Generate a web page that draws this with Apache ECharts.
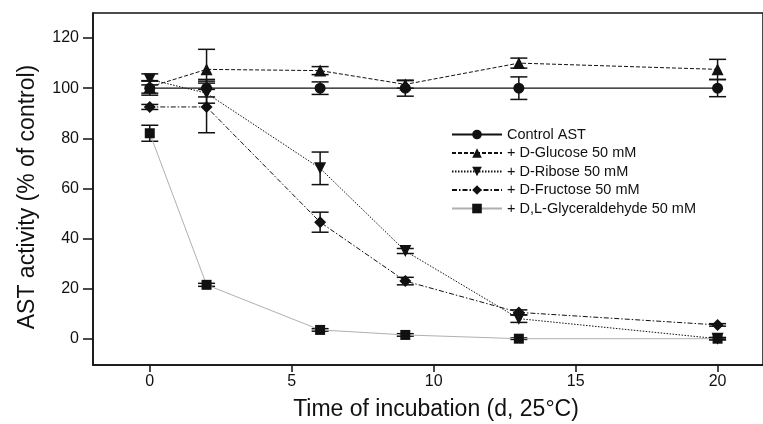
<!DOCTYPE html>
<html>
<head>
<meta charset="utf-8">
<script src="https://cdn.jsdelivr.net/npm/echarts@6/dist/echarts.min.js"></script>
<style>
  html, body { margin: 0; padding: 0; background: #fff; }
  #chart { width: 763px; height: 424px; }
</style>
</head>
<body>
<div id="chart"></div>
<script>
// days of incubation
const days = [0, 2, 6, 9, 13, 20]
const names = ['Control AST', '+ D-Glucose 50 mM', '+ D-Ribose 50 mM', '+ D-Fructose 50 mM', '+ D,L-Glyceraldehyde 50 mM']
// activity, % of control, and +/- error
const control = [100, 100, 100, 100, 100, 100]
const controlErr = [2.8, 3.5, 2.5, 3.2, 4.5, 3.4]
const glucose = [100.5, 107.5, 107, 101.5, 110, 107.5]
const glucoseErr = [2.5, 8, 1.6, 1.5, 2, 4]
const ribose = [103.5, 98, 68, 35, 8, 0]
const riboseErr = [2.2, 4, 6.5, 1, 1.5, 0.5]
const fructose = [92.5, 92.5, 46.5, 23, 10.5, 5.5]
const fructoseErr = [1, 10.3, 4, 1.5, 1, 0.5]
const glycer = [82, 21.5, 3.5, 1.5, 0, 0]
const glycerErr = [3.2, 0.6, 0.5, 0.5, 0.3, 0.3]
const yTicks = [0, 20, 40, 60, 80, 100, 120]
const xTicks = [0, 5, 10, 15, 20]

const font = '"Liberation Sans", Arial, sans-serif'

function pairs(vals) {
  return days.map((d, i) => [d, vals[i]])
}
function errData(vals, errs) {
  return days.map((d, i) => [d, vals[i] - errs[i], vals[i] + errs[i]])
}

// 误差棒
function errSeries(vals, errs) {
  return {
    type: 'custom',
    silent: true,
    z: 1,
    data: errData(vals, errs),
    renderItem: function (params, api) {
      const lo = api.coord([api.value(0), api.value(1)])
      const hi = api.coord([api.value(0), api.value(2)])
      const w = 8.5
      const st = { stroke: '#111', lineWidth: 1.5 }
      return {
        type: 'group',
        children: [
          { type: 'line', shape: { x1: lo[0], y1: lo[1], x2: hi[0], y2: hi[1] }, style: st },
          { type: 'line', shape: { x1: lo[0] - w, y1: lo[1], x2: lo[0] + w, y2: lo[1] }, style: st },
          { type: 'line', shape: { x1: hi[0] - w, y1: hi[1], x2: hi[0] + w, y2: hi[1] }, style: st },
        ],
      }
    },
  }
}

function lineSeries(name, vals, symbol, size, lineColor, lineWidth, type) {
  return {
    name: name,
    type: 'line',
    z: 3,
    data: pairs(vals),
    symbol: symbol,
    symbolSize: size,
    itemStyle: { color: '#111', borderWidth: 0 },
    lineStyle: { color: lineColor, width: lineWidth, type: type },
  }
}

const chart = echarts.init(document.getElementById('chart'))
const option = {
  animation: false,
  backgroundColor: '#fff',
  grid: {
    left: 93, right: 0, top: 13, bottom: 59,
    outerBoundsMode: 'none',
    show: true, borderColor: '#111', borderWidth: 1.5,
  },
  legend: {
    orient: 'vertical',
    left: 451,
    top: 127,
    padding: 0,
    itemWidth: 50,
    itemHeight: 12,
    itemGap: 3.5,
    data: names,
    textStyle: { color: '#111', fontSize: 14.5, fontFamily: font },
  },
  xAxis: {
    type: 'value',
    min: -2,
    max: 21.6,
    name: 'Time of incubation (d, 25°C)',
    nameLocation: 'middle',
    nameGap: 33,
    nameTextStyle: { color: '#111', fontSize: 23, fontFamily: font, padding: [0, 0, 0, 16] },
    splitLine: { show: false },
    axisLine: { onZero: false, lineStyle: { color: '#111', width: 1.5 } },
    axisTick: { customValues: xTicks, length: 7, lineStyle: { color: '#111', width: 1.5 } },
    axisLabel: { customValues: xTicks, color: '#111', fontSize: 16, fontFamily: font, margin: 9 },
  },
  yAxis: {
    type: 'value',
    min: -10.5,
    max: 130,
    name: 'AST activity (% of control)',
    nameLocation: 'middle',
    nameGap: 54,
    nameTextStyle: { color: '#111', fontSize: 23, fontFamily: font, padding: [0, 16, 0, 0] },
    splitLine: { show: false },
    axisLine: { onZero: false, lineStyle: { color: '#111', width: 1.5 } },
    axisTick: { customValues: yTicks, length: 10, lineStyle: { color: '#111', width: 1.5 } },
    axisLabel: { customValues: yTicks, color: '#111', fontSize: 16, fontFamily: font, margin: 14 },
  },
  series: [
    errSeries(control, controlErr),
    errSeries(glucose, glucoseErr),
    errSeries(ribose, riboseErr),
    errSeries(fructose, fructoseErr),
    errSeries(glycer, glycerErr),
    lineSeries(names[0], control, 'circle', 11, '#111', 1.3, 'solid'),
    lineSeries(names[1], glucose, 'triangle', 12, '#111', 1, [4, 2]),
    lineSeries(names[2], ribose, 'path://M0,0 L10,0 L5,9 Z', 12, '#111', 1, [1.5, 1.5]),
    lineSeries(names[3], fructose, 'diamond', 12, '#111', 1, [5, 2, 1.5, 2]),
    lineSeries(names[4], glycer, 'rect', 10, '#b0b0b0', 1, 'solid'),
  ],
}
chart.setOption(option, true)
</script>
</body>
</html>
